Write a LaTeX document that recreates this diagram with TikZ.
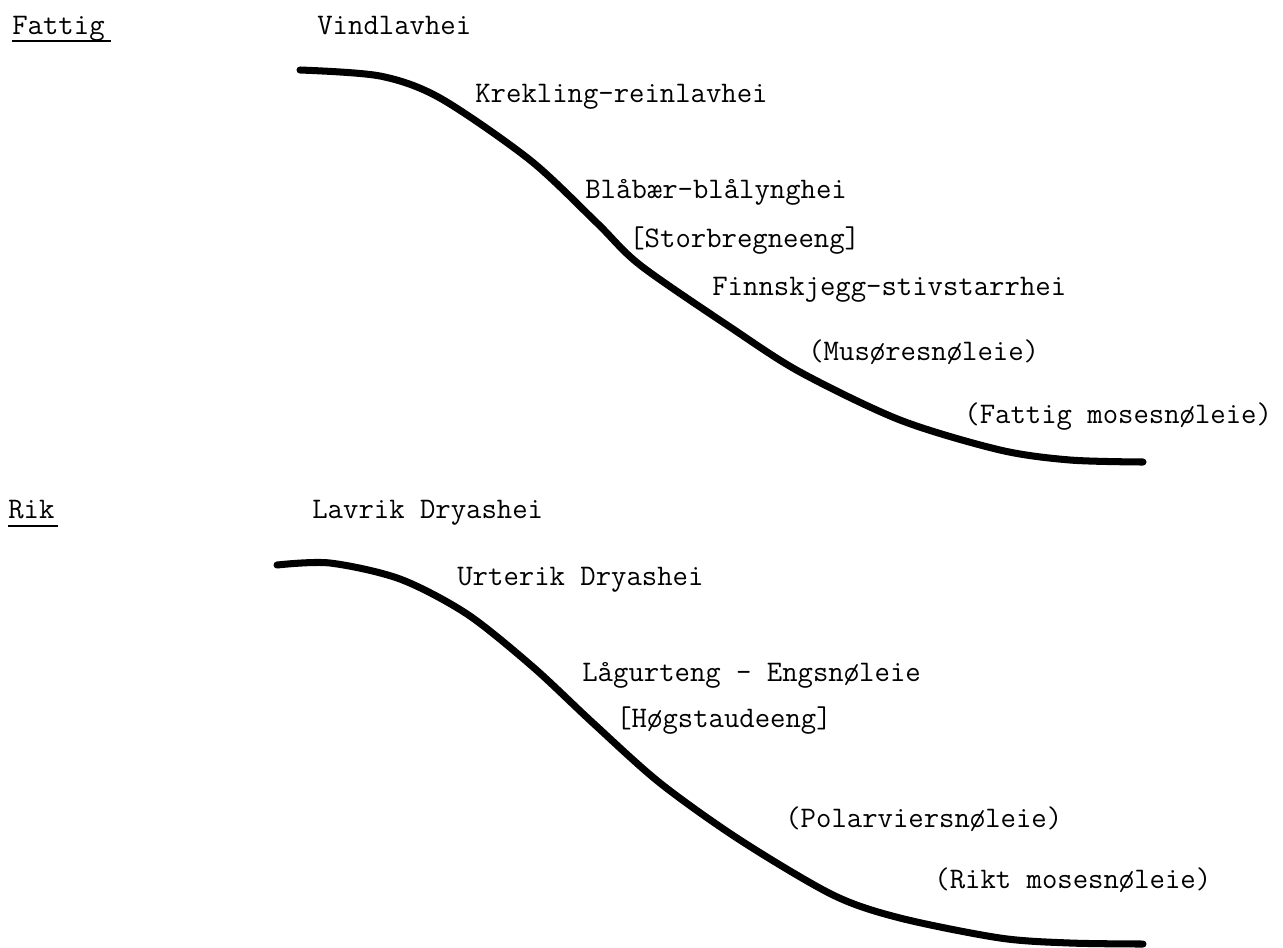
\documentclass[tikz,border=0pt]{standalone}
\usepackage{fontspec}
\usepackage{tikz}

\begin{document}
\begin{tikzpicture}[x=0.02cm, y=-0.02cm,
  lbl/.style={anchor=base west, inner sep=0pt, font=\ttfamily\fontsize{17}{20}\selectfont},
  ridge/.style={line width=4pt, line cap=round, line join=round},
  uline/.style={line width=0.8pt}]
  \useasboundingbox (0,0) rectangle (1283,947);

  \node [lbl] (fattig) at (12,34) {Fattig};
  \node [lbl] (vind) at (317,34) {Vindlavhei};
  \node [lbl] (krek) at (475,102) {Krekling-reinlavhei};
  \node [lbl] (blaa) at (585,198) {Blåbær-blålynghei};
  \node [lbl] (storb) at (629,247) {[Storbregneeng]};
  \node [lbl] (finn) at (712,295) {Finnskjegg-stivstarrhei};
  \node [lbl] (muso) at (808,360) {(Musøresnøleie)};
  \node [lbl] (fmose) at (964,423) {(Fattig mosesnøleie)};

  \node [lbl] (rik) at (8,518) {Rik};
  \node [lbl] (lavrik) at (312,518) {Lavrik Dryashei};
  \node [lbl] (urterik) at (457,585) {Urterik Dryashei};
  \node [lbl] (laag) at (582,681) {Lågurteng - Engsnøleie};
  \node [lbl] (hoeg) at (616,727) {[Høgstaudeeng]};
  \node [lbl] (polar) at (785,827) {(Polarviersnøleie)};
  \node [lbl] (rmose) at (934,888) {(Rikt mosesnøleie)};

  \draw [uline] ([yshift=-0.14cm]fattig.base west) -- ([xshift=0.12cm,yshift=-0.14cm]fattig.base east);
  \draw [uline] ([yshift=-0.16cm]rik.base west) -- ([xshift=0.06cm,yshift=-0.16cm]rik.base east);

  \draw [ridge] plot [smooth] coordinates {(300,70) (380,76) (440,98) (530,160) (597,223)
    (640,265) (730,327) (800,372) (900,420) (1000,450) (1070,460) (1143,462)};

  \draw [ridge] plot [smooth] coordinates {(277,565) (330,563) (400,579) (467,614) (533,667)
    (593,723) (660,783) (740,840) (833,895) (900,918) (1000,938) (1070,943) (1143,944)};
\end{tikzpicture}
\end{document}
